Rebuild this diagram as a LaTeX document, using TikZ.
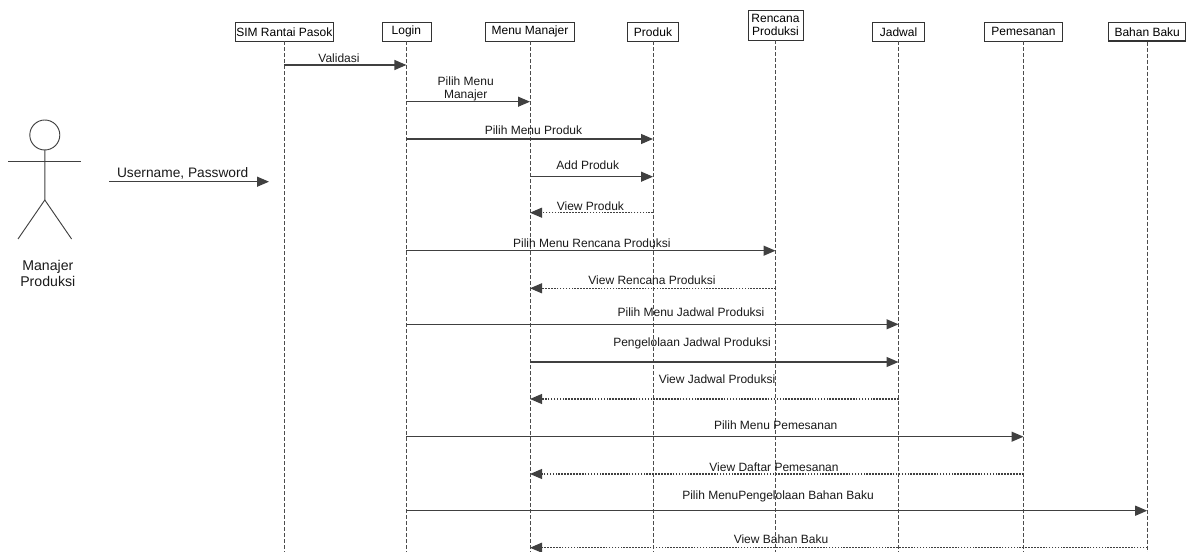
\documentclass[tikz,border=0pt]{standalone}
\usepackage{fontspec}
\setmainfont{Liberation Sans}
\usetikzlibrary{arrows.meta}

\begin{document}
\begin{tikzpicture}[x=0.75pt, y=-0.75pt,
  >={Triangle[length=9pt,width=7.5pt]},
  obj/.style={draw=black!80, line width=0.6pt, inner sep=1pt, minimum height=13.7pt, font=\fontsize{9}{10}\selectfont},
  lifeline/.style={draw=black!70, line width=0.6pt, dash pattern=on 3pt off 1.5pt},
  call/.style={->, draw=black!75, line width=0.9pt},
  reply/.style={->, draw=black!75, line width=0.8pt, dash pattern=on 1.2pt off 1pt},
  lbl/.style={inner sep=0pt, align=center, text=black!90, font=\fontsize{9}{10}\selectfont},
  actor/.style={draw=black!75, line width=0.7pt}]
\useasboundingbox (0,0) rectangle (1197,552);
\def\msg#1#2#3#4#5#6#7{\draw[#1] (#2 |- 0,#4) -- (#3 |- 0,#4); \node[lbl] at (#5,#6) {#7};}

% objects
\node[obj, minimum width=73.8pt] (sim) at (284.3,31.8) {SIM Rantai Pasok};
\node[obj, minimum width=36.75pt] (login) at (406.4,31.8) {Login};
\node[obj, minimum width=66.75pt] (menu) at (530,31.8) {Menu Manajer};
\node[obj, minimum width=38.5pt] (produk) at (653,31.8) {Produk};
\node[obj, minimum width=41.25pt, minimum height=22.5pt, align=center] (rencana) at (775.5,25) {Rencana\\Produksi};
\node[obj, minimum width=39pt] (jadwal) at (898.5,31.8) {Jadwal};
\node[obj, minimum width=58.5pt] (pesan) at (1023.5,31.8) {Pemesanan};
\node[obj, minimum width=58pt, line width=0.9pt] (bahan) at (1147.2,31.8) {Bahan Baku};

% lifelines
\foreach \p in {sim,login,menu,produk,rencana,jadwal,pesan,bahan}
  \draw[lifeline] (\p.south) -- (\p.south |- 0,552);

% actor
\draw[actor] (44.8,135) circle [radius=11.25pt];
\draw[actor] (44.8,150) -- (44.8,200) -- (18,239);
\draw[actor] (44.8,200) -- (71.6,239);
\draw[actor] (8.4,161.7) -- (81,161.7);
\node[lbl, font=\fontsize{10.6}{11.5}\selectfont] (mp) at (47.8,273.3) {Manajer\\Produksi};

\coordinate (u1) at (109,181.7);
\coordinate (u2) at (269,181.7);
\draw[call] (u1) -- (u2);
\node[lbl, font=\fontsize{10.3}{12}\selectfont] (up) at (182.7,173) {Username, Password};

% messages
\msg{call}{sim}{login}{65}{339}{58}{Validasi}
\msg{call}{login}{menu}{101.7}{465.7}{88.9}{Pilih Menu\\Manajer}
\msg{call}{login}{produk}{139}{533.5}{130}{Pilih Menu Produk}
\msg{call}{menu}{produk}{176.7}{587.7}{165}{Add Produk}
\msg{reply}{produk}{menu}{212.7}{590.4}{206}{View Produk}
\msg{call}{login}{rencana}{250.7}{591.8}{243}{Pilih Menu Rencana Produksi}
\msg{reply}{rencana}{menu}{288.3}{652}{280}{View Rencana Produksi}
\msg{call}{login}{jadwal}{324.3}{691}{312.7}{Pilih Menu Jadwal Produksi}
\msg{call}{menu}{jadwal}{362}{692}{343}{Pengelolaan Jadwal Produksi}
\msg{reply}{jadwal}{menu}{399}{717}{379.3}{View Jadwal Produksi}
\msg{call}{login}{pesan}{436.7}{775.7}{425.7}{Pilih Menu Pemesanan}
\msg{reply}{pesan}{menu}{474}{774}{467.3}{View Daftar Pemesanan}
\msg{call}{login}{bahan}{510.7}{778}{496}{Pilih MenuPengelolaan Bahan Baku}
\msg{reply}{bahan}{menu}{547.7}{781}{539}{View Bahan Baku}
\end{tikzpicture}
\end{document}
